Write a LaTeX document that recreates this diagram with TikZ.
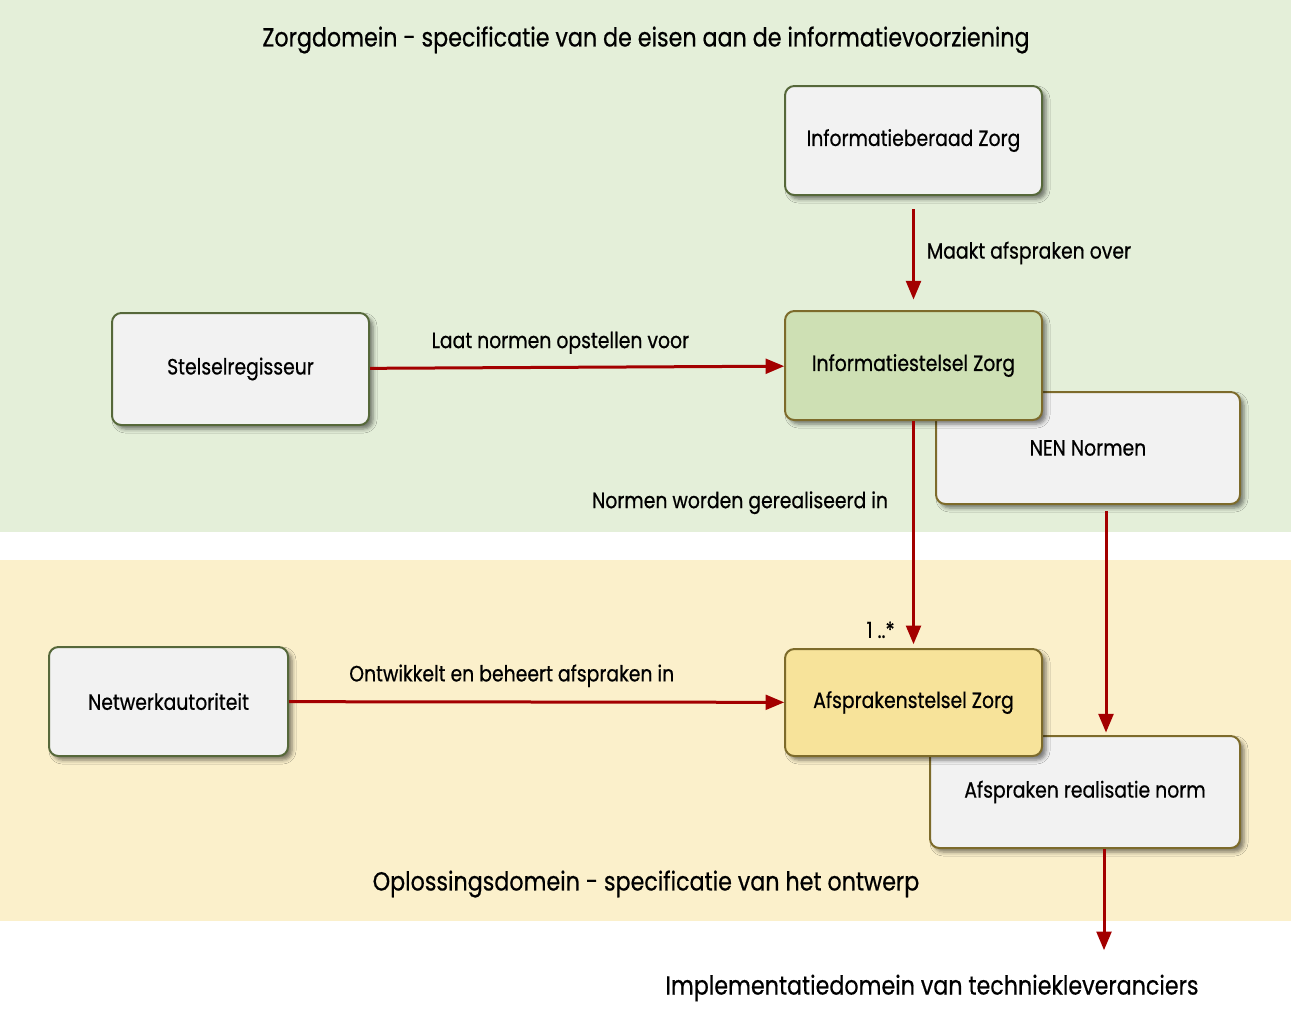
\documentclass[tikz,border=0pt]{standalone}
\usepackage{fontspec}
\setmainfont{Poppins}[FakeStretch=0.85,FakeBold=0.6]
\usetikzlibrary{arrows,positioning,shadows.blur}

\definecolor{bandgroen}{HTML}{E4EFD9}
\definecolor{bandgeel}{HTML}{FBF0CB}
\definecolor{grijs}{HTML}{F2F2F2}
\definecolor{stelselgroen}{HTML}{CEE0B4}
\definecolor{stelselgeel}{HTML}{F7E39A}
\definecolor{randgroen}{HTML}{56683A}
\definecolor{randolijf}{HTML}{7D6B2B}
\definecolor{pijlrood}{HTML}{A30000}

\begin{document}
\begin{tikzpicture}[x=0.75pt,y=-0.75pt,>=triangle 45,
	blok/.style={draw=randgroen,fill=grijs,line width=1.5pt,rounded corners=7pt,
		minimum width=192.75pt,minimum height=81.75pt,inner sep=0pt,
		font=\fontsize{16.6}{19}\selectfont,
		blur shadow={shadow xshift=3pt,shadow yshift=-3pt,shadow blur radius=3pt,shadow opacity=50}},
	norm/.style={blok,draw=randolijf},
	pijl/.style={->,draw=pijlrood,line width=2.25pt},
	tekst/.style={font=\fontsize{16.6}{19}\selectfont,inner sep=2pt},
	kop/.style={font=\fontsize{19.6}{23}\selectfont,inner sep=0pt}]
	% domeinen
	\fill[bandgroen] (0,0) rectangle (1291,532);
	\fill[bandgeel] (0,560) rectangle (1291,921);
	\useasboundingbox (0,0) rectangle (1291,1018);
	\node[kop] (kop_zorg) at (646,40) {Zorgdomein - specificatie van de eisen aan de informatievoorziening};
	\node[kop] (kop_oplos) at (646,884) {Oplossingsdomein - specificatie van het ontwerp};
	\node[kop] (kop_impl) at (932,988) {Implementatiedomein van techniekleveranciers};
	% blokken
	\node[blok] (beraad) at (913.5,140.5) {Informatieberaad Zorg};
	\node[blok,minimum height=84pt] (regisseur) at (240.5,369) {Stelselregisseur};
	\node[norm,minimum width=228pt,minimum height=84pt] (nen) at (1088,448) {NEN Normen};
	\node[norm,fill=stelselgroen] (info_zorg) at (913.5,365.5) {Informatiestelsel Zorg};
	\node[blok,minimum width=179.25pt] (netwerk) at (168.5,701.5) {Netwerkautoriteit};
	\node[norm,minimum width=232.5pt,minimum height=84pt] (realisatie) at (1085,792) {Afspraken realisatie norm};
	\node[norm,fill=stelselgeel,minimum height=80.25pt] (afspr_zorg) at (913.5,702.5) {Afsprakenstelsel Zorg};
	\coordinate (nen_x) at (1106,0);
	\coordinate (impl_x) at (1104,0);
	\coordinate (uit) at (1104,950);
	\path
		(beraad) edge[pijl,shorten <=10pt,shorten >=8pt] node[tekst,right=7pt] {Maakt afspraken over} (info_zorg)
		(regisseur) edge[pijl] node[tekst,above=7pt,pos=0.46] {Laat normen opstellen voor} (info_zorg)
		(info_zorg) edge[pijl,shorten >=3pt] node[tekst,left=16pt,pos=0.36] {Normen worden gerealiseerd in}
			node[tekst,left=11pt,pos=0.92] {1 ..*} (afspr_zorg)
		(netwerk) edge[pijl] node[tekst,above=8pt,pos=0.45] {Ontwikkelt en beheert afspraken in} (afspr_zorg)
		(nen_x |- nen.south) ++(0,6) edge[pijl,shorten >=2pt] (nen_x |- realisatie.north)
		(impl_x |- realisatie.south) edge[pijl] (uit);
\end{tikzpicture}
\end{document}
